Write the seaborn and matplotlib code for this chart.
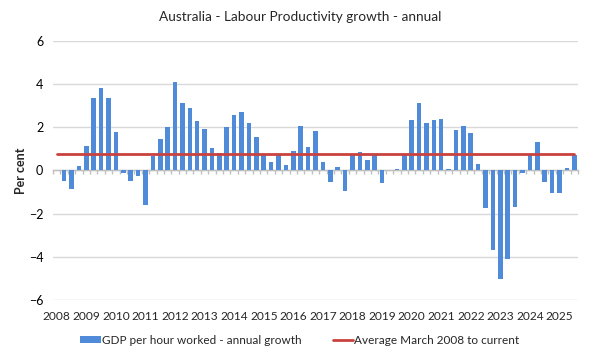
import numpy as np
import pandas as pd
import matplotlib
matplotlib.use("Agg")
import matplotlib.pyplot as plt
import seaborn as sns
from matplotlib.patches import Patch
from matplotlib.lines import Line2D

# ---- data ----
years = list(range(2008, 2026))
quarters = [f"{m}-{y}" for y in range(2008, 2026) for m in ("Mar", "Jun", "Sep", "Dec")][:71]
growth = [0.0, -0.48, -0.85, 0.2, 1.13, 3.38, 3.82, 3.35, 1.8, -0.12,
          -0.48, -0.27, -1.6, 0.66, 1.44, 2.0, 4.08, 3.12, 2.88, 2.3,
          1.94, 1.06, 0.83, 2.03, 2.57, 2.7, 2.22, 1.57, 0.74, 0.38,
          0.74, 0.27, 0.9, 2.07, 1.1, 1.84, 0.38, -0.52, 0.18, -0.93,
          0.74, 0.88, 0.5, 0.74, -0.6, 0.0, 0.09, 0.72, 2.35, 3.15,
          2.22, 2.32, 2.38, 0.08, 1.87, 2.06, 1.72, 0.28, -1.76, -3.67,
          -5.05, -4.1, -1.7, -0.12, 0.72, 1.3, -0.52, -1.02, -1.02, 0.1,
          0.7]
average = 0.77
series_bar = "GDP per hour worked - annual growth"
series_line = "Average March 2008 to current"
title = "Australia - Labour Productivity growth - annual"

df = pd.DataFrame({"quarter": quarters, "growth": growth})
df["avg"] = average

sns.set_theme(style="white")
plt.rcParams["font.family"] = ["Lato", "DejaVu Sans"]

blue = "#4f8bd9"
red = "#c9423f"
grid = "#d9d9d9"

fig = plt.figure(figsize=(6.0, 3.61), dpi=100)
ax = fig.add_axes([53/600, 1-300/361, 525/600, 259/361])

sns.barplot(data=df, x="quarter", y="growth", color=blue, saturation=1,
            width=0.62, linewidth=0, ax=ax, zorder=3)
pos = np.arange(len(df))
sns.lineplot(x=pos, y=df["avg"].values, color=red, linewidth=2, ax=ax, zorder=4)

ax.set_xlim(-0.5, len(df) - 0.5)
ax.set_ylim(-6, 6)
ax.set_yticks(np.arange(-6, 7, 2))
ax.yaxis.grid(True, color=grid, linewidth=1)
ax.set_axisbelow(True)
for s in ("left", "right", "top"):
    ax.spines[s].set_visible(False)
ax.spines["bottom"].set_position(("data", 0))
ax.spines["bottom"].set_color("#bfbfbf")
ax.spines["bottom"].set_linewidth(1)
ax.spines["bottom"].set_zorder(2)
ax.set_xticks(np.arange(-0.5, len(df), 1))
ax.tick_params(axis="x", length=3, color="#bfbfbf", width=1, labelbottom=False, bottom=True)
ax.tick_params(axis="y", length=0, labelsize=9, pad=7, labelcolor="#000000")
ax.set_xlabel("")
ax.set_ylabel("Per cent", fontsize=9, fontweight="bold", labelpad=1)

sec = ax.secondary_xaxis("bottom")
sec.set_xticks(np.arange(0, len(df), 4), labels=[str(y) for y in years])
sec.tick_params(length=0, labelsize=8.6, pad=8)
sec.spines["bottom"].set_visible(False)

fig.text(0.5, 1-17/361, title, ha="center", va="center", fontsize=9.8)

handles = [Patch(facecolor=blue, edgecolor="none"),
           Line2D([0], [0], color=red, linewidth=2)]
leg = fig.legend(handles, [series_bar, series_line], loc="center",
                 bbox_to_anchor=(0.5, 1-340/361), ncol=2, frameon=False,
                 fontsize=8.5, handlelength=1.7, handleheight=0.5,
                 handletextpad=0.15, columnspacing=2.6)

fig.savefig("out.png", dpi=100)
